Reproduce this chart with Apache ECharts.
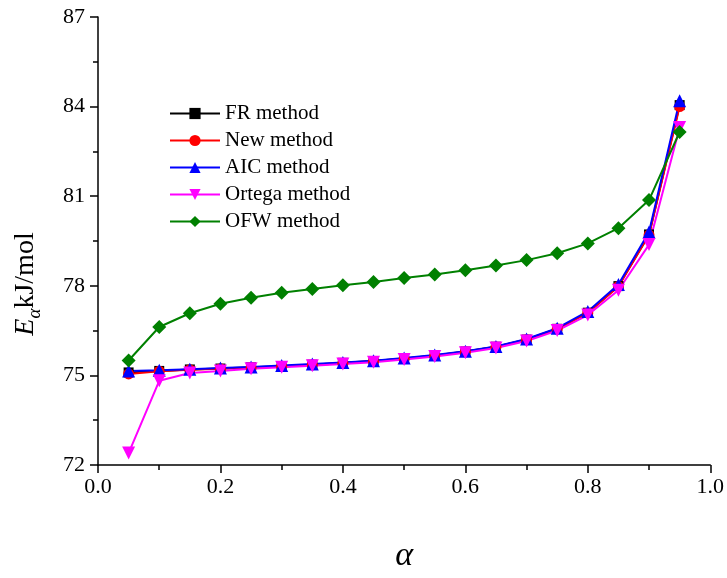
<!DOCTYPE html>
<html>
<head>
<meta charset="utf-8">
<script src="https://cdn.jsdelivr.net/npm/echarts@6/dist/echarts.min.js"></script>
<style>
html,body{margin:0;padding:0;background:#fff;}
#chart{width:727px;height:578px;}
</style>
</head>
<body>
<div id="chart"></div>
<script>
var alphaValues = [0.05,0.10,0.15,0.20,0.25,0.30,0.35,0.40,0.45,0.50,0.55,0.60,0.65,0.70,0.75,0.80,0.85,0.90,0.95];
var frMethod = [75.10,75.15,75.20,75.23,75.27,75.31,75.36,75.42,75.48,75.57,75.67,75.80,75.96,76.20,76.56,77.10,77.99,79.72,84.05];
var newMethod = [75.05,75.14,75.19,75.22,75.26,75.30,75.35,75.41,75.47,75.56,75.66,75.79,75.95,76.19,76.55,77.09,77.98,79.70,84.00];
var aicMethod = [75.15,75.17,75.21,75.25,75.28,75.33,75.38,75.43,75.49,75.58,75.68,75.81,75.97,76.22,76.58,77.14,78.04,79.80,84.20];
var ortegaMethod = [72.40,74.82,75.08,75.15,75.22,75.27,75.32,75.38,75.44,75.53,75.63,75.76,75.92,76.15,76.50,77.02,77.85,79.38,83.30];
var ofwMethod = [75.50,76.62,77.08,77.40,77.60,77.77,77.89,78.02,78.13,78.26,78.38,78.52,78.68,78.86,79.09,79.42,79.93,80.87,83.15];
var seriesNames = ['FR method','New method','AIC method','Ortega method','OFW method'];
var yTicks = [72,75,78,81,84,87];
var xTicks = [0.0,0.2,0.4,0.6,0.8,1.0];

function pairs(vals){ return alphaValues.map(function(a,i){ return [a, vals[i]]; }); }
var FONT = 'Liberation Serif';
function mk(name, vals, color, symbol, size, rot){
  return {
    name: name, type: 'line', data: pairs(vals),
    symbol: symbol, symbolSize: size, symbolRotate: rot || 0,
    lineStyle: {color: color, width: 2},
    itemStyle: {color: color},
    emphasis: {disabled: true},
    animation: false
  };
}
var chart = echarts.init(document.getElementById('chart'), null, {renderer: 'canvas'});
chart.setOption({
  backgroundColor: '#fff',
  animation: false,
  grid: {left: 98, right: 16, top: 17, bottom: 106, containLabel: false},
  legend: {
    orient: 'vertical', left: 164, top: 98, itemGap: 6,
    itemWidth: 50, itemHeight: 14,
    textStyle: {fontFamily: FONT, fontSize: 21, color: '#000'},
    data: seriesNames
  },
  xAxis: {
    type: 'value', min: 0, max: 1, interval: 0.2,
    name: 'α', nameLocation: 'middle', nameGap: 74,
    nameTextStyle: {fontFamily: FONT, fontSize: 34, fontStyle: 'italic', color: '#000'},
    axisLine: {onZero: false, lineStyle: {color: '#000', width: 1.5}},
    axisTick: {show: true, inside: false, length: 8, lineStyle: {color: '#000', width: 1.5}},
    minorTick: {show: true, splitNumber: 2, length: 5, lineStyle: {color: '#000', width: 1.5}},
    axisLabel: {fontFamily: FONT, fontSize: 22, color: '#000', margin: 11,
      formatter: function(v){ return xTicks.some(function(t){return Math.abs(t-v)<1e-9;}) ? v.toFixed(1) : ''; }},
    splitLine: {show: false}
  },
  yAxis: {
    type: 'value', min: 72, max: 87, interval: 3,
    name: '{e|E}{s|α}{u|kJ/mol}', nameLocation: 'middle', nameGap: 54, nameRotate: 90,
    nameTextStyle: {
      fontFamily: FONT, fontSize: 28, color: '#000', padding: [0, 86, 0, 0],
      rich: {
        e: {fontFamily: FONT, fontSize: 28, fontStyle: 'italic', color: '#000', lineHeight: 32, verticalAlign: 'top'},
        s: {fontFamily: FONT, fontSize: 19, fontStyle: 'italic', color: '#000', lineHeight: 20, verticalAlign: 'bottom'},
        u: {fontFamily: FONT, fontSize: 28, color: '#000', lineHeight: 32, verticalAlign: 'top'}
      }
    },
    axisLine: {show: true, lineStyle: {color: '#000', width: 1.5}},
    axisTick: {show: true, inside: false, length: 8, lineStyle: {color: '#000', width: 1.5}},
    minorTick: {show: true, splitNumber: 2, length: 5, lineStyle: {color: '#000', width: 1.5}},
    axisLabel: {fontFamily: FONT, fontSize: 22, color: '#000', margin: 13,
      formatter: function(v){ return yTicks.indexOf(v) >= 0 ? String(v) : ''; }},
    splitLine: {show: false}
  },
  series: [
    mk(seriesNames[0], frMethod, '#000000', 'rect', 10),
    mk(seriesNames[1], newMethod, '#ff0000', 'circle', 11),
    mk(seriesNames[2], aicMethod, '#0000ff', 'triangle', 13),
    mk(seriesNames[3], ortegaMethod, '#ff00ff', 'triangle', 13, 180),
    mk(seriesNames[4], ofwMethod, '#008000', 'diamond', 14)
  ]
});
</script>
</body>
</html>
